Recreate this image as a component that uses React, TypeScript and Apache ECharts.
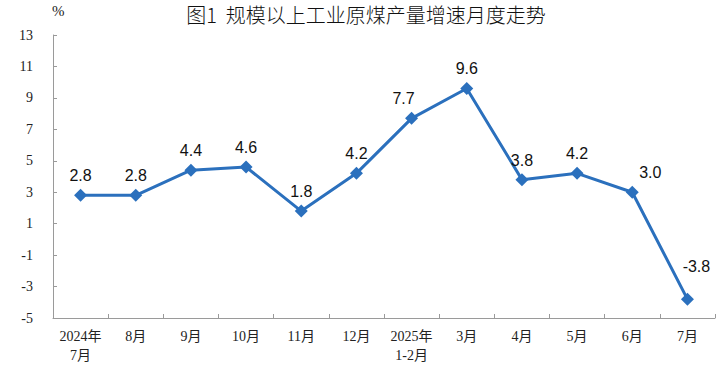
import React, { useEffect, useRef } from "react";
import * as echarts from "echarts";

const categories = [
  "2024年\n7月", "8月", "9月", "10月", "11月", "12月",
  "2025年\n1-2月", "3月", "4月", "5月", "6月", "7月",
];
const values = [2.8, 2.8, 4.4, 4.6, 1.8, 4.2, 7.7, 9.6, 3.8, 4.2, 3.0, -3.8];
const yTicks = { min: -5, max: 13, interval: 2 };
const titleText = "图1  规模以上工业原煤产量增速月度走势";

const labelOffsets: Record<number, [number, number]> = {
  6: [-8, 0],
  10: [18, 0],
  11: [9, -13],
};

export default function App() {
  const ref = useRef<HTMLDivElement>(null);
  useEffect(() => {
    if (!ref.current) return;
    const chart = echarts.init(ref.current, undefined, { renderer: "svg" });
    const serif = "'Times New Roman', 'Liberation Serif', 'Noto Sans CJK SC', serif";
    chart.setOption({
      animation: false,
      backgroundColor: "#ffffff",
      title: {
        text: titleText,
        left: 366,
        textAlign: "center",
        top: 4,
        padding: 0,
        textStyle: {
          fontFamily: "'Noto Sans CJK SC', sans-serif",
          fontSize: 20,
          lineHeight: 20,
          fontWeight: 300,
          color: "#111",
        },
      },
      graphic: [
        {
          type: "text",
          left: 52,
          top: 3,
          style: { text: "%", font: "15px 'Liberation Serif', serif", fill: "#222" },
        },
      ],
      grid: { left: 53, right: 5, top: 35, bottom: 62, containLabel: false },
      xAxis: {
        type: "category",
        data: categories,
        boundaryGap: true,
        axisLine: { show: true, onZero: false, lineStyle: { color: "#9a9a9a", width: 1 } },
        axisTick: { show: true, inside: true, length: 4, lineStyle: { color: "#9a9a9a" } },
        axisLabel: {
          interval: 0,
          margin: 9,
          fontFamily: serif,
          fontSize: 14,
          color: "#222",
          lineHeight: 19,
        },
        splitLine: { show: false },
      },
      yAxis: {
        type: "value",
        min: yTicks.min,
        max: yTicks.max,
        interval: yTicks.interval,
        axisLine: { show: true, lineStyle: { color: "#9a9a9a", width: 1 } },
        axisTick: { show: true, inside: true, length: 4, lineStyle: { color: "#9a9a9a" } },
        axisLabel: {
          margin: 20,
          fontFamily: serif,
          fontSize: 14,
          color: "#222",
        },
        splitLine: { show: false },
      },
      series: [
        {
          type: "line",
          data: values.map((v, i) => ({
            value: v,
            label: labelOffsets[i] ? { offset: labelOffsets[i] } : undefined,
          })),
          symbol: "diamond",
          symbolSize: 13,
          itemStyle: { color: "#2b70bd" },
          lineStyle: { color: "#2b70bd", width: 3 },
          label: {
            show: true,
            position: "top",
            distance: 5,
            formatter: (p: any) => Number(p.value).toFixed(1),
            fontFamily: "'Liberation Sans', Arial, sans-serif",
            fontSize: 16,
            color: "#111",
          },
        },
      ],
    });
    return () => chart.dispose();
  }, []);
  return (
    <div
      ref={ref}
      style={{ position: "absolute", left: 0, top: 0, width: 720, height: 380 }}
    />
  );
}
